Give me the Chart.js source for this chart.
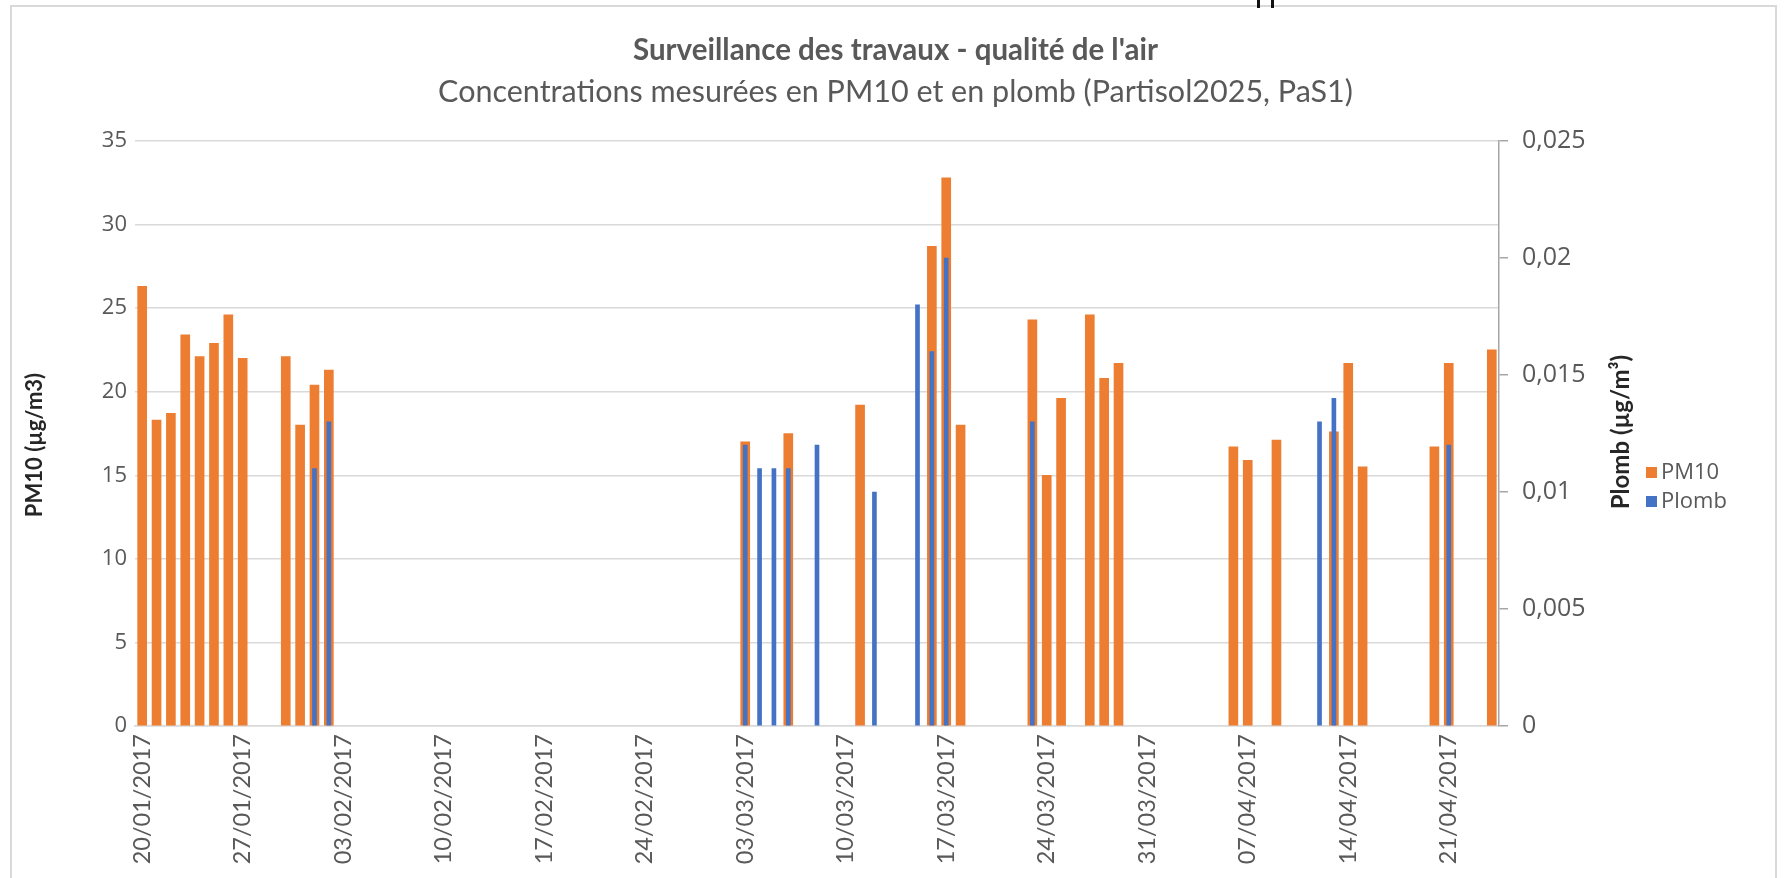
<!DOCTYPE html>
<html>
<head>
<meta charset="utf-8">
<script src="https://cdn.jsdelivr.net/npm/chart.js@4.4.1/dist/chart.umd.min.js"></script>
<style>
  html, body { margin: 0; padding: 0; background: #fff; overflow: hidden; }
  #frame { position: absolute; left: 10px; top: 5px; width: 1767px; height: 900px; border: 2px solid #d9d9d9; box-sizing: border-box; }
  .mark { position: absolute; top: 0; width: 3px; height: 8px; background: #111; }
  canvas { position: absolute; left: 0; top: 0; }
</style>
</head>
<body>
<div id="frame"></div>
<div class="mark" style="left:1257px"></div>
<div class="mark" style="left:1271px"></div>
<canvas id="air" width="1791" height="878"></canvas>
<script>
const _ = null;

// dates shown on the axis (one every week)
const tickLabels = [
  "20/01/2017", "27/01/2017", "03/02/2017", "10/02/2017", "17/02/2017",
  "24/02/2017", "03/03/2017", "10/03/2017", "17/03/2017", "24/03/2017",
  "31/03/2017", "07/04/2017", "14/04/2017", "21/04/2017"
];

// PM10 in µg/m3, one value per day from 20/01/2017 to 24/04/2017 (one row = one week)
const pm10 = [
  26.3, 18.3, 18.7, 23.4, 22.1, 22.9, 24.6,
  22.0, _, _, 22.1, 18.0, 20.4, 21.3,
  _, _, _, _, _, _, _,
  _, _, _, _, _, _, _,
  _, _, _, _, _, _, _,
  _, _, _, _, _, _, _,
  17.0, _, _, 17.5, _, _, _,
  _, 19.2, _, _, _, _, 28.7,
  32.8, 18.0, _, _, _, _, 24.3,
  15.0, 19.6, _, 24.6, 20.8, 21.7, _,
  _, _, _, _, _, _, 16.7,
  15.9, _, 17.1, _, _, _, 17.6,
  21.7, 15.5, _, _, _, _, 16.7,
  21.7, _, _, 22.5
];

// lead (plomb) in µg/m3, same days
const plomb = [
  _, _, _, _, _, _, _,
  _, _, _, _, _, 0.011, 0.013,
  _, _, _, _, _, _, _,
  _, _, _, _, _, _, _,
  _, _, _, _, _, _, _,
  _, _, _, _, _, _, _,
  0.012, 0.011, 0.011, 0.011, _, 0.012, _,
  _, _, 0.010, _, _, 0.018, 0.016,
  0.020, _, _, _, _, _, 0.013,
  _, _, _, _, _, _, _,
  _, _, _, _, _, _, _,
  _, _, _, _, _, 0.013, 0.014,
  _, _, _, _, _, _, _,
  0.012, _, _, _
];

// one category per day
const days = [];
for (let d = new Date(2017, 0, 20); d <= new Date(2017, 3, 24); d.setDate(d.getDate() + 1)) {
  const dd = String(d.getDate()).padStart(2, "0");
  const mm = String(d.getMonth() + 1).padStart(2, "0");
  days.push(dd + "/" + mm + "/" + d.getFullYear());
}

const grey = "#595959";

function sideTitle(ctx, text, x, y, size) {
  ctx.save();
  ctx.translate(x, y);
  ctx.rotate(-Math.PI / 2);
  ctx.textAlign = "center";
  ctx.textBaseline = "middle";
  ctx.font = "bold " + size + "px Lato";
  ctx.fillStyle = "#262626";
  ctx.fillText(text, 0, 0);
  ctx.restore();
}

// legend + axis titles drawn by hand (Excel style)
const sideBits = {
  id: "sideBits",
  afterDraw(chart) {
    const ctx = chart.ctx;
    const area = chart.chartArea;
    ctx.save();
    ctx.font = "22px 'Open Sans'";
    ctx.textBaseline = "middle";
    ctx.textAlign = "left";
    chart.data.datasets.forEach((ds, i) => {
      const y = 472 + i * 29;
      ctx.fillStyle = ds.backgroundColor;
      ctx.fillRect(area.right + 147, y - 5, 11, 11);
      ctx.fillStyle = grey;
      ctx.fillText(ds.label, area.right + 162, y + 1);
    });
    ctx.restore();
    sideTitle(ctx, "PM10 (µg/m3)", 35, 445, 22);
    sideTitle(ctx, "Plomb (µg/m³)", area.right + 122, 432, 24);
  }
};

new Chart("air", {
  type: "bar",
  data: {
    labels: days,
    datasets: [
      {
        label: "PM10",
        data: pm10,
        yAxisID: "y",
        backgroundColor: "#ED7D31",
        barThickness: 9,
        grouped: false,
        order: 1
      },
      {
        label: "Plomb",
        data: plomb,
        yAxisID: "y1",
        backgroundColor: "#4472C4",
        barThickness: 4,
        grouped: false,
        order: 0
      }
    ]
  },
  options: {
    responsive: false,
    animation: false,
    layout: { padding: 0 },
    plugins: {
      legend: { display: false },
      tooltip: { enabled: false },
      title: {
        display: true,
        text: "Surveillance des travaux - qualité de l'air",
        color: grey,
        font: { family: "Lato", size: 29.5, weight: "bold" },
        padding: { top: 33, bottom: 5 }
      },
      subtitle: {
        display: true,
        text: "Concentrations mesurées en PM10 et en plomb (Partisol2025, PaS1)",
        color: grey,
        font: { family: "Lato", size: 30.5 },
        padding: { top: 0, bottom: 31 }
      }
    },
    scales: {
      x: {
        grid: { display: false, drawTicks: false },
        border: { color: "#d9d9d9", width: 1.5 },
        ticks: {
          autoSkip: false,
          minRotation: 90,
          maxRotation: 90,
          color: grey,
          padding: 8,
          font: { family: "Lato", size: 23.5 },
          callback: (v, i) => tickLabels.includes(days[i]) ? days[i] : ""
        },
        afterFit: (scale) => { scale.height = 152; }
      },
      y: {
        position: "left",
        min: 0,
        max: 35,
        ticks: { stepSize: 5, color: grey, padding: 8, font: { family: "Open Sans", size: 22 } },
        grid: { color: "#d9d9d9", lineWidth: 1.5, drawTicks: false },
        border: { display: false },
        afterFit: (scale) => { scale.width = 135; }
      },
      y1: {
        position: "right",
        min: 0,
        max: 0.025,
        ticks: {
          stepSize: 0.005,
          color: grey,
          padding: 14,
          font: { family: "Open Sans", size: 25 },
          callback: (v) => String(+v.toFixed(3)).replace(".", ",")
        },
        grid: { drawOnChartArea: false, drawTicks: true, tickLength: 9, color: "#a6a6a6", lineWidth: 1.5 },
        border: { color: "#a6a6a6", width: 1.5 },
        afterFit: (scale) => { scale.width = 292; }
      }
    }
  },
  plugins: [sideBits]
});
</script>
</body>
</html>
